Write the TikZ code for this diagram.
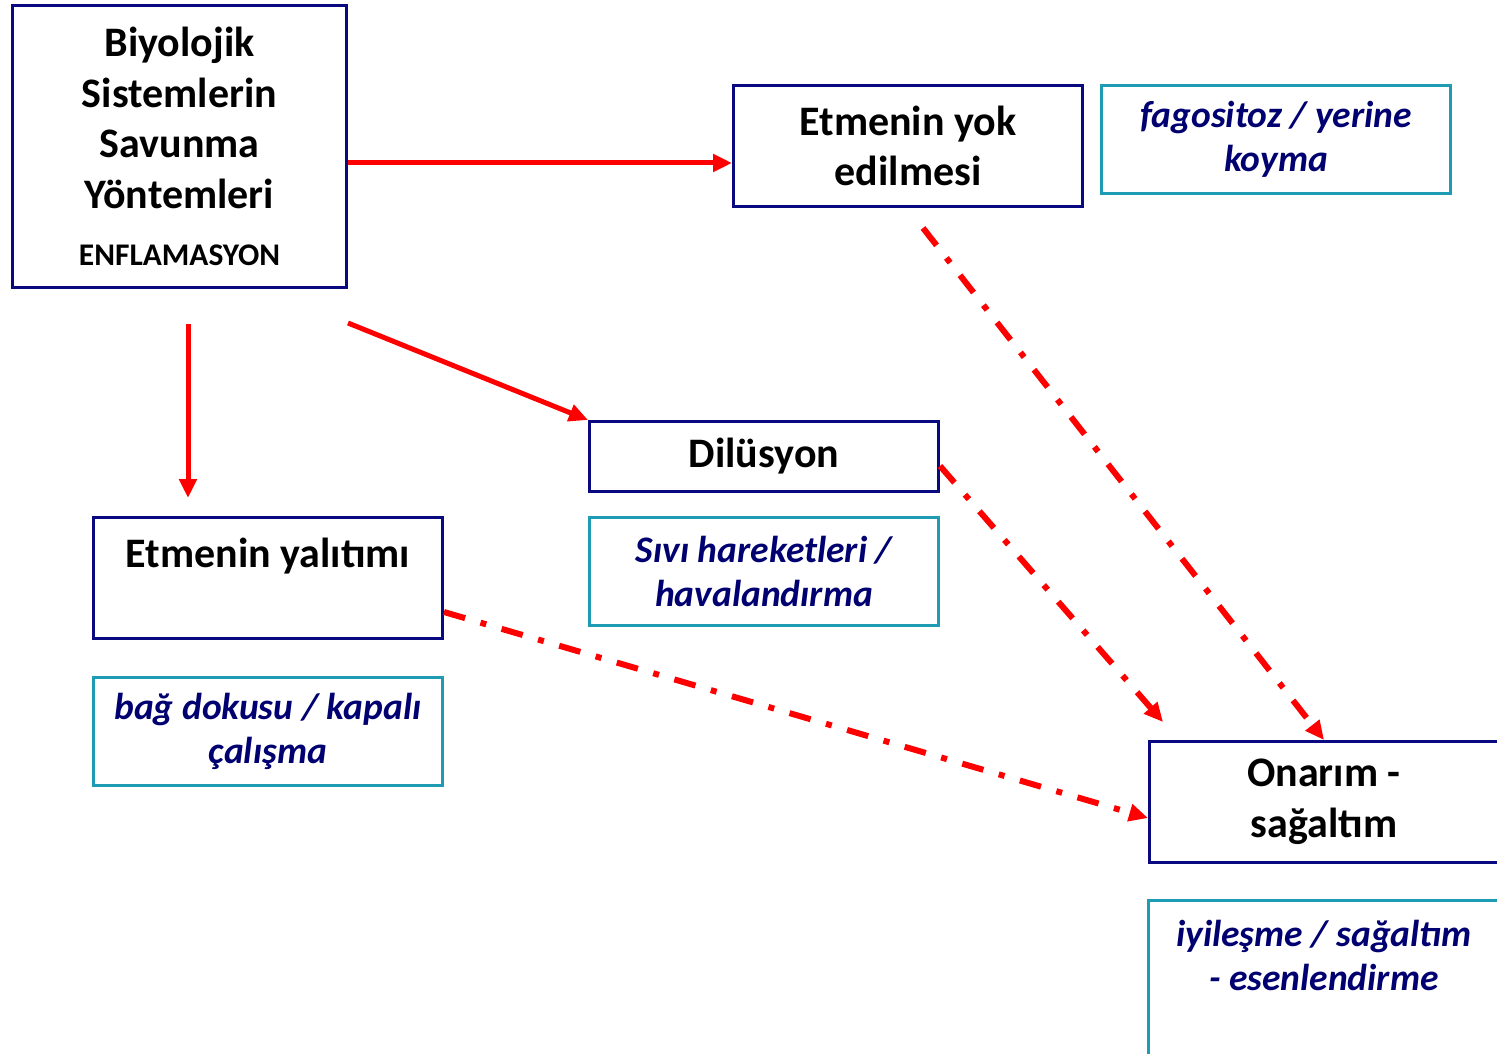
\documentclass[tikz,border=0pt]{standalone}
\usepackage{fontspec}
\setmainfont{Carlito}
\usetikzlibrary{arrows.meta,calc}
\definecolor{navyb}{HTML}{0A0A80}
\definecolor{tealb}{HTML}{1E9CB3}
\definecolor{navyt}{HTML}{000070}
\definecolor{redl}{HTML}{FF0000}
\begin{document}
\begin{tikzpicture}[x=1pt,y=-1pt,
  mainbox/.style={draw=navyb, line width=3pt, minimum width=349pt, inner sep=0pt, align=center,
    font=\fontsize{42}{50.5}\selectfont\bfseries, text=black},
  notebox/.style={draw=tealb, line width=2.5pt, minimum width=349pt, minimum height=108pt, inner sep=0pt,
    align=center, font=\fontsize{37.5}{44.5}\selectfont\bfseries\itshape, text=navyt},
  solidarrow/.style={draw=redl, line width=5pt, -{Triangle[length=19pt,width=17pt]}},
  dasharrow/.style={solidarrow, line width=6pt, dash pattern=on 22pt off 16pt on 6pt off 16pt}]
\useasboundingbox (0,0) rectangle (1497,1054);
\clip (0,0) rectangle (1497,1054);

\node[mainbox, minimum width=334pt, minimum height=282pt] (A) at (179.5,146.5)
  {Biyolojik\\Sistemlerin\\Savunma\\Yöntemleri\\[7pt]{\fontsize{31.5}{35}\selectfont ENFLAMASYON}};
\node[mainbox, minimum height=121pt] (B) at (908,146) {Etmenin yok\\edilmesi};
\node[notebox] (C) at (1276,139.5) {fagositoz / yerine\\koyma};
\node[mainbox, minimum height=70pt] (D) at (764,456.5) {Dilüsyon};
\node[notebox] (E) at (764,571.5) {Sıvı hareketleri /\\havalandırma};
\node[mainbox, minimum height=121pt] (F) at (268,578) {Etmenin yalıtımı\\\mbox{}};
\node[notebox] (G) at (268,731.5) {bağ dokusu / kapalı\\çalışma};
\node[mainbox, minimum height=121pt] (H) at (1324,802) {Onarım -\\sağaltım};
\node[notebox, draw=none] (I) at (1324,955.5) {iyileşme / sağaltım\\- esenlendirme};
\draw[draw=tealb, line width=2.5pt] ([yshift=-80pt]I.south west) -- (I.north west) -- (I.north east) -- ([yshift=-80pt]I.south east);

\draw[solidarrow] ([yshift=-16.5pt]A.east) -- ([yshift=-17pt]B.west);
\draw[solidarrow] ($(A.south)+(8.5,35)$) -- ($(F.north)+(-80,-18)$);
\draw[solidarrow] ($(A.south east)+(0,34)$) -- (D.north west);
\draw[dasharrow] ($(F.east)+(0,34)$) -- ($(H.west)+(0,16)$);
\draw[dasharrow] ($(D.east)+(0,9.5)$) -- ($(H.north west)+(15,-18)$);
\draw[dasharrow] ($(B.south)+(15,20)$) -- (H.north);
\end{tikzpicture}
\end{document}
